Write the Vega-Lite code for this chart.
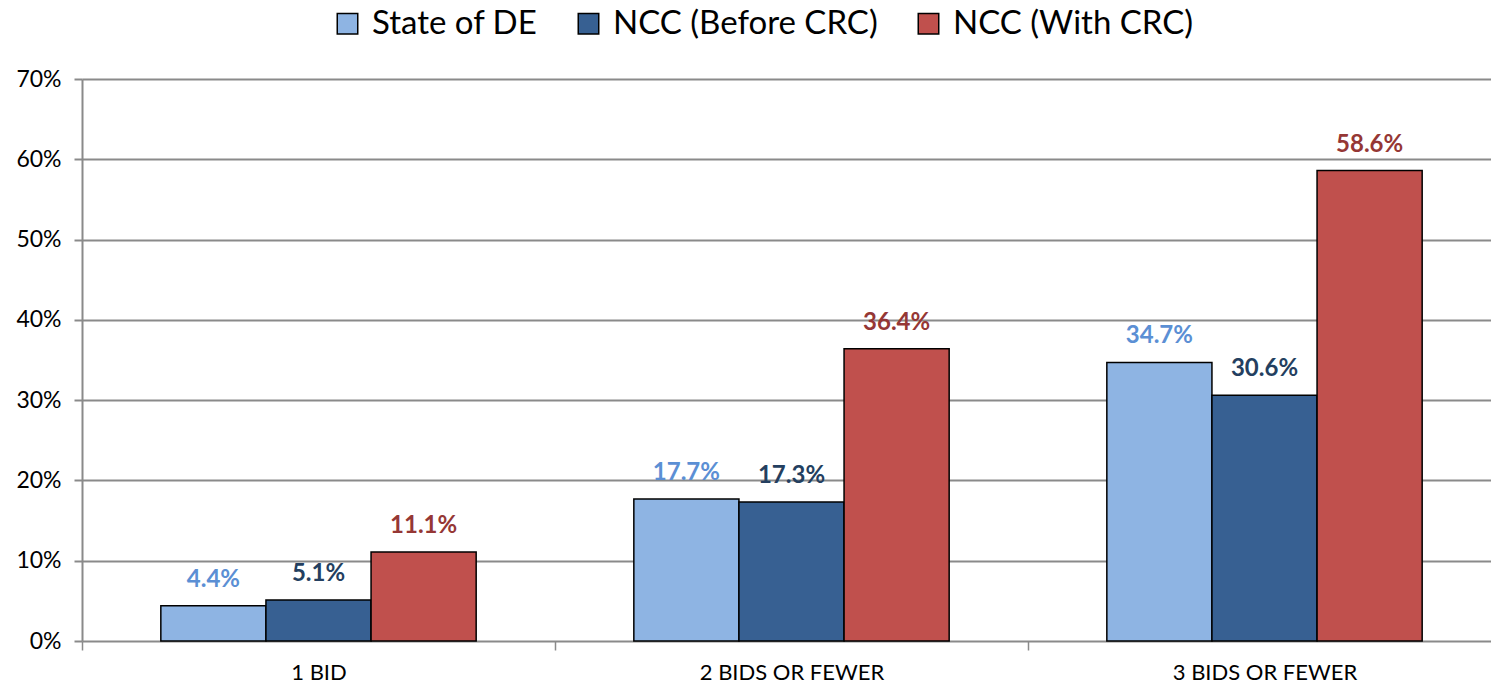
{
  "$schema": "https://vega.github.io/schema/vega-lite/v6.json",
  "width": 1419,
  "height": 562,
  "autosize": {"type": "none"},
  "padding": {"left": 82, "top": 79, "right": 0, "bottom": 45},
  "background": "white",
  "config": {
    "font": "Lato",
    "view": {"stroke": null},
    "axis": {"labelFont": "Lato", "labelColor": "#000000"}
  },
  "data": {
    "values": [
      {"category": "1 BID", "series": "State of DE", "value": 0.044, "label": "4.4%"},
      {"category": "1 BID", "series": "NCC (Before CRC)", "value": 0.051, "label": "5.1%"},
      {"category": "1 BID", "series": "NCC (With CRC)", "value": 0.111, "label": "11.1%"},
      {"category": "2 BIDS OR FEWER", "series": "State of DE", "value": 0.177, "label": "17.7%"},
      {"category": "2 BIDS OR FEWER", "series": "NCC (Before CRC)", "value": 0.173, "label": "17.3%"},
      {"category": "2 BIDS OR FEWER", "series": "NCC (With CRC)", "value": 0.364, "label": "36.4%"},
      {"category": "3 BIDS OR FEWER", "series": "State of DE", "value": 0.347, "label": "34.7%"},
      {"category": "3 BIDS OR FEWER", "series": "NCC (Before CRC)", "value": 0.306, "label": "30.6%"},
      {"category": "3 BIDS OR FEWER", "series": "NCC (With CRC)", "value": 0.586, "label": "58.6%"}
    ]
  },
  "encoding": {
    "x": {
      "field": "category",
      "type": "nominal",
      "sort": ["1 BID", "2 BIDS OR FEWER", "3 BIDS OR FEWER"],
      "scale": {"paddingInner": 0, "paddingOuter": 0},
      "axis": {
        "title": null,
        "labelAngle": 0,
        "labelFontSize": 22,
        "labelLimit": 0,
        "labelPadding": 12,
        "domain": false,
        "ticks": true,
        "tickBand": "extent",
        "tickSize": 9,
        "tickWidth": 1.5,
        "tickColor": "#8a8a8a"
      }
    },
    "xOffset": {
      "field": "series",
      "type": "nominal",
      "sort": ["State of DE", "NCC (Before CRC)", "NCC (With CRC)"],
      "scale": {"paddingInner": 0, "paddingOuter": 0.75}
    },
    "y": {
      "field": "value",
      "type": "quantitative",
      "scale": {"domain": [0, 0.7], "nice": false},
      "axis": {
        "title": null,
        "format": ".0%",
        "values": [0, 0.1, 0.2, 0.3, 0.4, 0.5, 0.6, 0.7],
        "labelFontSize": 23,
        "labelPadding": 13,
        "grid": true,
        "gridColor": "#8a8a8a",
        "gridWidth": 2,
        "domain": true,
        "domainColor": "#8a8a8a",
        "domainWidth": 2,
        "tickColor": "#8a8a8a",
        "tickWidth": 2,
        "tickSize": 8
      }
    }
  },
  "layer": [
    {
      "mark": {"type": "bar", "stroke": "#000000", "strokeWidth": 1.5},
      "encoding": {
        "color": {
          "field": "series",
          "type": "nominal",
          "sort": ["State of DE", "NCC (Before CRC)", "NCC (With CRC)"],
          "scale": {
            "domain": ["State of DE", "NCC (Before CRC)", "NCC (With CRC)"],
            "range": ["#8EB4E3", "#376092", "#C0504D"]
          },
          "legend": {
            "title": null,
            "orient": "none",
            "direction": "horizontal",
            "legendX": 249,
            "legendY": -72,
            "symbolType": "square",
            "symbolSize": 420,
            "symbolStrokeColor": "#000000",
            "symbolStrokeWidth": 1.5,
            "labelFontSize": 33,
            "labelFont": "Lato",
            "labelColor": "#000000",
            "labelLimit": 0,
            "columnPadding": 34,
            "labelOffset": 8
          }
        }
      }
    },
    {
      "mark": {"type": "text", "baseline": "bottom", "dy": -14, "fontSize": 24, "fontWeight": "bold"},
      "encoding": {
        "text": {"field": "label"},
        "color": {
          "field": "series",
          "type": "nominal",
          "scale": {
            "domain": ["State of DE", "NCC (Before CRC)", "NCC (With CRC)"],
            "range": ["#5B8FD4", "#243F60", "#953735"]
          },
          "legend": null
        }
      }
    }
  ],
  "resolve": {"scale": {"color": "independent"}}
}
